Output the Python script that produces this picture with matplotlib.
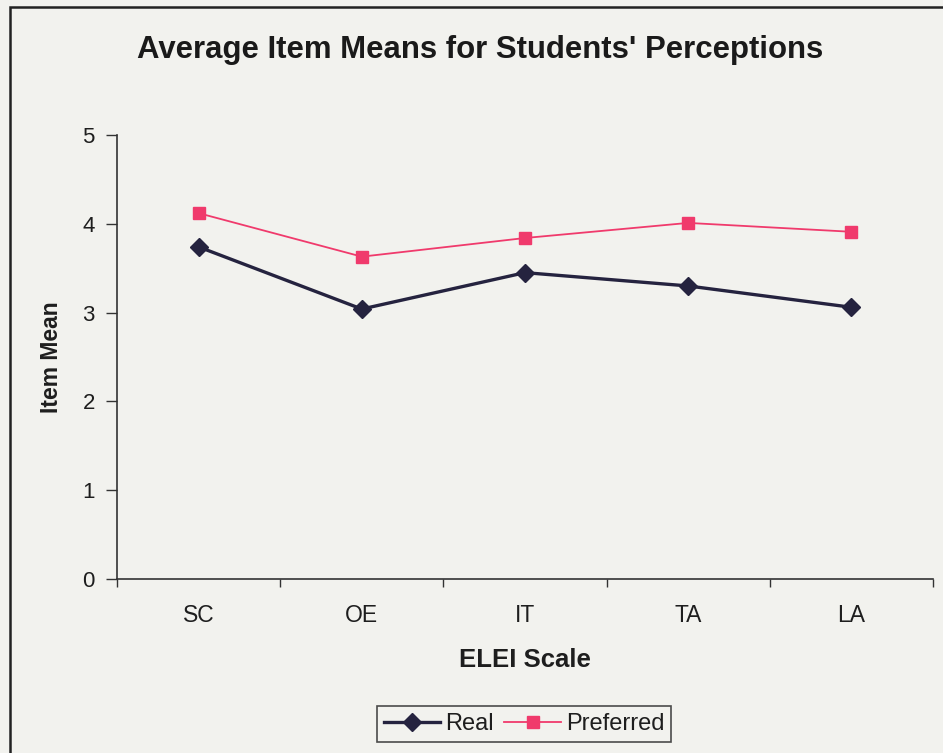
import matplotlib
matplotlib.use("Agg")
import matplotlib.pyplot as plt
from matplotlib.patches import Rectangle

plt.rcParams['font.family'] = ['Liberation Sans', 'DejaVu Sans']

categories = ["SC", "OE", "IT", "TA", "LA"]
real = [3.74, 3.04, 3.45, 3.30, 3.06]
preferred = [4.12, 3.63, 3.84, 4.01, 3.91]
y_ticks = [0, 1, 2, 3, 4, 5]

W, H = 943, 753
bg = "#f2f2ee"
fig = plt.figure(figsize=(W / 100, H / 100), dpi=100, facecolor=bg)

ax = fig.add_axes([117 / W, 1 - 579 / H, 816 / W, 444 / H])
ax.set_facecolor(bg)

x = list(range(len(categories)))
ax.plot(x, real, color="#25233f", lw=2.4, marker="D", markersize=9,
        markerfacecolor="#25233f", markeredgecolor="#25233f", label="Real")
ax.plot(x, preferred, color="#f03a6c", lw=1.3, marker="s", markersize=8,
        markerfacecolor="#f03a6c", markeredgecolor="#f03a6c", label="Preferred")

ax.set_xlim(-0.5, len(categories) - 0.5)
ax.set_ylim(0, 5)
ax.set_yticks(y_ticks)
ax.set_yticklabels([str(v) for v in y_ticks], fontsize=16, color="#1e1e1e")

# category labels centred, tick marks between categories
ax.set_xticks([i - 0.5 for i in range(len(categories) + 1)])
ax.set_xticklabels([])
ax.set_xticks(x, minor=True)
ax.set_xticklabels(categories, minor=True, fontsize=16.5, color="#1e1e1e")
ax.tick_params(axis="x", which="minor", length=0, pad=18)
ax.tick_params(axis="x", which="major", length=6, width=1, color="#333333", direction="out")
ax.tick_params(axis="y", length=8, width=1, color="#333333", direction="out", pad=8)

for s in ["top", "right"]:
    ax.spines[s].set_visible(False)
for s in ["left", "bottom"]:
    ax.spines[s].set_color("#333333")
    ax.spines[s].set_linewidth(1.2)

ax.set_xlabel("ELEI Scale", fontsize=18.5, fontweight="bold", labelpad=15, color="#1e1e1e")
ax.set_ylabel("Item Mean", fontsize=16.5, fontweight="bold", labelpad=14, color="#1e1e1e")

fig.text(480 / W, 1 - 50 / H, "Average Item Means for Students' Perceptions",
         ha="center", va="center", fontsize=22.4, fontweight="bold", color="#1a1a1a")

leg = ax.legend(loc="center", bbox_to_anchor=(524 / W, 1 - 724 / H),
                bbox_transform=fig.transFigure, ncol=2, fontsize=17,
                frameon=True, fancybox=False, edgecolor="#222222",
                handlelength=2.4, handletextpad=0.2, columnspacing=0.45,
                borderpad=0.3, borderaxespad=0, facecolor=bg)
leg.get_frame().set_linewidth(1.2)
for t in leg.get_texts():
    t.set_color("#1e1e1e")

# outer chart border
fig.patches.append(Rectangle((10 / W, -0.05), 1.2, 1 - 7 / H + 0.05,
                             transform=fig.transFigure, fill=False,
                             edgecolor="#222222", linewidth=1.8))

fig.savefig("out.png", dpi=100, facecolor=bg)
